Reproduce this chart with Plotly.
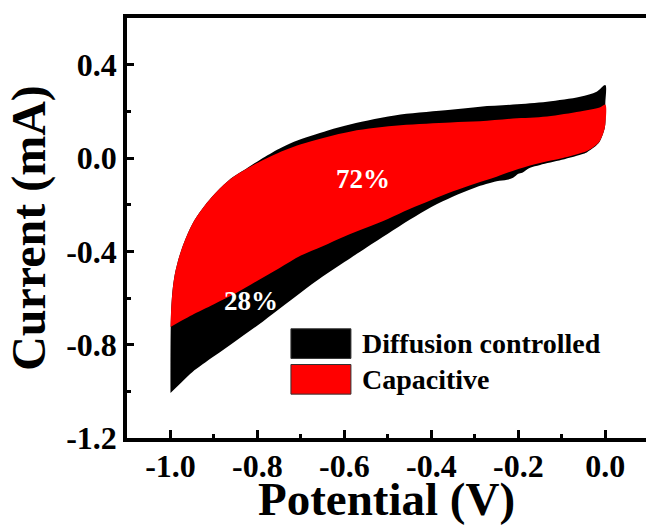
import plotly.graph_objects as go

# ---- data ----
# Capacitive contribution (red): anodic branch, starting at the left tip (-1.0 -> 0.0)
cap_anodic_E = [-1.0, -0.998, -0.991, -0.975, -0.945, -0.906, -0.867, -0.821, -0.769,
                -0.700, -0.585, -0.471, -0.356, -0.288, -0.212, -0.134, -0.058, -0.013, 0.0]
cap_anodic_I = [-0.724, -0.635, -0.508, -0.394, -0.267, -0.169, -0.097, -0.042, 0.008,
                0.059, 0.114, 0.140, 0.152, 0.157, 0.169, 0.178, 0.199, 0.216, 0.229]
# Capacitive cathodic branch (0.0 -> -0.975; the loop closes back to the tip)
cap_cathodic_E = [0.0, -0.004, -0.013, -0.025, -0.042, -0.10, -0.15, -0.20, -0.25, -0.30,
                  -0.35, -0.40, -0.45, -0.50, -0.55, -0.60, -0.65, -0.70, -0.75, -0.80,
                  -0.85, -0.90, -0.95, -0.975]
cap_cathodic_I = [0.144, 0.110, 0.072, 0.050, 0.030, -0.001, -0.021, -0.047, -0.080, -0.110,
                  -0.143, -0.180, -0.219, -0.261, -0.299, -0.336, -0.378, -0.418, -0.472, -0.526,
                  -0.580, -0.627, -0.673, -0.698]

# Total CV (black): anodic branch, starting at the bottom-left tip
tot_anodic_E = [-1.0, -0.998, -0.991, -0.975, -0.945, -0.906, -0.867, -0.821, -0.792,
                -0.750, -0.716, -0.638, -0.585, -0.471, -0.356, -0.288, -0.212, -0.134,
                -0.058, -0.020, 0.0, 0.0]
tot_anodic_I = [-1.007, -0.635, -0.508, -0.394, -0.267, -0.169, -0.097, -0.040, -0.005,
                0.040, 0.070, 0.118, 0.145, 0.186, 0.207, 0.220, 0.229, 0.241,
                0.262, 0.284, 0.313, 0.230]
# Total CV cathodic branch (0.0 -> -0.975; the loop closes back to the tip)
tot_cathodic_E = [0.0, -0.004, -0.013, -0.025, -0.042, -0.05, -0.10, -0.15, -0.173, -0.191,
                  -0.200, -0.212, -0.226, -0.25, -0.30, -0.35, -0.40, -0.45, -0.50, -0.55,
                  -0.60, -0.65, -0.70, -0.75, -0.80, -0.85, -0.90, -0.95, -0.975]
tot_cathodic_I = [0.144, 0.110, 0.070, 0.047, 0.025, 0.018, -0.008, -0.030, -0.042, -0.063,
                  -0.068, -0.085, -0.093, -0.100, -0.127, -0.165, -0.210, -0.265, -0.325, -0.385,
                  -0.446, -0.508, -0.576, -0.647, -0.718, -0.784, -0.850, -0.918, -0.962]

x_tickvals = [-1.0, -0.8, -0.6, -0.4, -0.2, 0.0]
x_ticktext = ["-1.0", "-0.8", "-0.6", "-0.4", "-0.2", "0.0"]
x_minor = [-0.9, -0.7, -0.5, -0.3, -0.1]
y_tickvals = [-1.2, -0.8, -0.4, 0.0, 0.4]
y_ticktext = ["-1.2", "-0.8", "-0.4", "0.0", "0.4"]
y_minor = [-1.0, -0.6, -0.2, 0.2]

legend_names = ["Diffusion controlled", "Capacitive"]
legend_colors = ["#000000", "#ff0000"]
pct_labels = ["72%", "28%"]

FONT = "Liberation Serif"

fig = go.Figure()
fig.add_trace(go.Scatter(
    x=tot_anodic_E + tot_cathodic_E, y=tot_anodic_I + tot_cathodic_I,
    mode="lines", fill="toself", fillcolor=legend_colors[0],
    line=dict(width=0, color=legend_colors[0], shape="spline", smoothing=0.9),
    showlegend=False, hoverinfo="skip"))
fig.add_trace(go.Scatter(
    x=cap_anodic_E + cap_cathodic_E, y=cap_anodic_I + cap_cathodic_I,
    mode="lines", fill="toself", fillcolor=legend_colors[1],
    line=dict(width=0, color=legend_colors[1], shape="spline", smoothing=0.9),
    showlegend=False, hoverinfo="skip"))

# percentage labels
fig.add_annotation(x=-0.558, y=-0.089, text=pct_labels[0], showarrow=False,
                   font=dict(family=FONT, size=27, color="white", weight="bold"))
fig.add_annotation(x=-0.814, y=-0.614, text=pct_labels[1], showarrow=False,
                   font=dict(family=FONT, size=27, color="white", weight="bold"))

# custom legend (boxes + labels)
box_x0, box_x1 = -0.723, -0.585
box_rows = [(-0.859, -0.732), (-1.012, -0.885)]
for (y0, y1), col, name in zip(box_rows, legend_colors, legend_names):
    fig.add_shape(type="rect", xref="x", yref="y", x0=box_x0, x1=box_x1, y0=y0, y1=y1,
                  fillcolor=col, line=dict(color="#333333", width=1))
    fig.add_annotation(x=-0.565, y=(y0 + y1) / 2, xref="x", yref="y", text=name,
                       showarrow=False, xanchor="left", yanchor="middle",
                       font=dict(family=FONT, size=28, color="black", weight="bold"))

fig.update_layout(
    width=646, height=525,
    margin=dict(l=127, r=0, t=18, b=87),
    plot_bgcolor="white", paper_bgcolor="white",
    font=dict(family=FONT, color="black"),
)
fig.update_xaxes(
    range=[-1.1, 0.0936], showgrid=False, zeroline=False,
    showline=True, linewidth=3.5, linecolor="black", mirror=True,
    ticks="inside", ticklen=8, tickwidth=3, tickcolor="black",
    tickvals=x_tickvals, ticktext=x_ticktext, ticklabelstandoff=-3,
    tickfont=dict(family=FONT, size=32, weight="bold", color="black"),
    minor=dict(tickvals=x_minor, ticks="inside", ticklen=4, tickwidth=2.5, tickcolor="black"),
    title=dict(text="Potential (V)", standoff=0,
               font=dict(family=FONT, size=47, weight="bold", color="black")),
)
fig.update_yaxes(
    range=[-1.2, 0.6], showgrid=False, zeroline=False,
    showline=True, linewidth=3.5, linecolor="black", mirror=False,
    ticks="inside", ticklen=7, tickwidth=3, tickcolor="black",
    tickvals=y_tickvals, ticktext=y_ticktext,
    tickfont=dict(family=FONT, size=32, weight="bold", color="black"),
    minor=dict(tickvals=y_minor, ticks="inside", ticklen=4, tickwidth=2.5, tickcolor="black"),
    title=dict(text="Current (mA)", standoff=6,
               font=dict(family=FONT, size=48, weight="bold", color="black")),
)

fig.write_html("out.html")
